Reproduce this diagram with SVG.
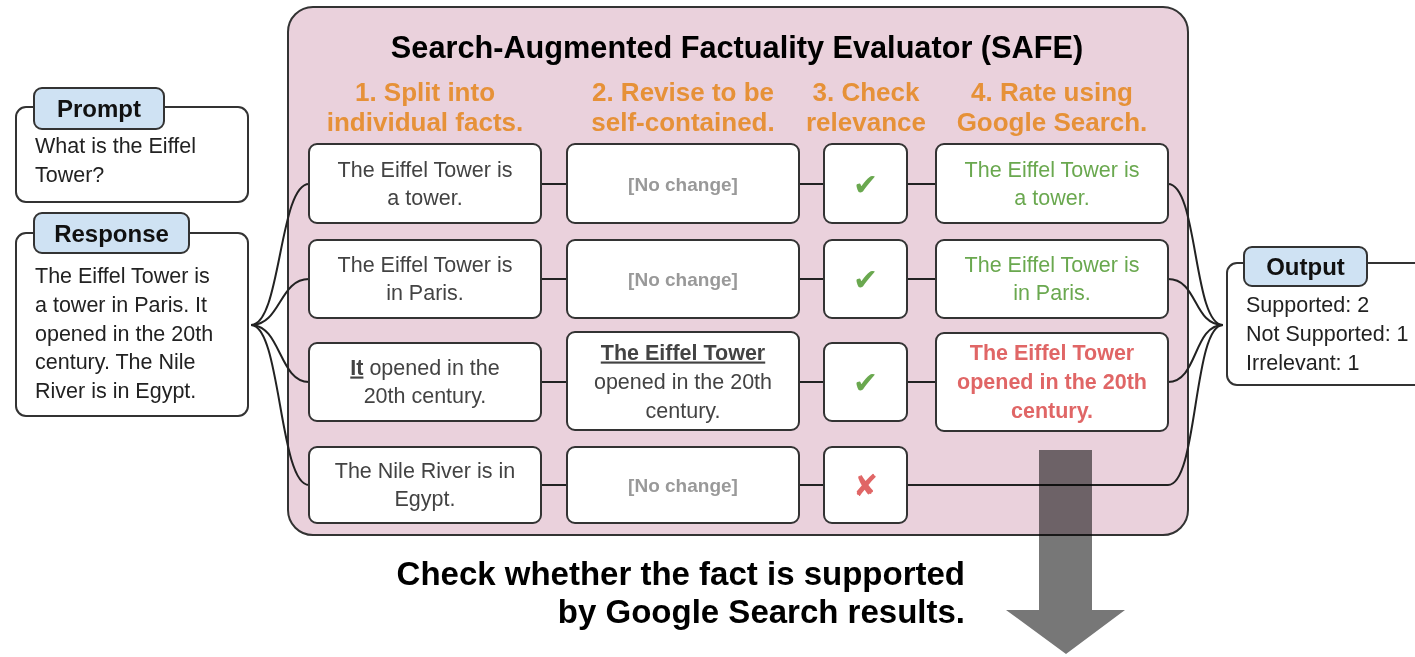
<svg xmlns="http://www.w3.org/2000/svg" width="1415" height="657" viewBox="0 0 1415 657">
<style>
text{font-family:"Liberation Sans",Arial,sans-serif;}
.box{fill:#fff;stroke:#333;stroke-width:2;}
.pill{fill:#cfe2f3;stroke:#333;stroke-width:2;}
.conn{fill:none;stroke:#222;stroke-width:2;}
.body{font-size:21.5px;fill:#434343;text-anchor:middle;}
.side{font-size:21.5px;fill:#222;}
.hdr{font-size:26px;font-weight:bold;fill:#e69138;text-anchor:middle;}
.nc{font-size:19px;font-weight:bold;fill:#999;text-anchor:middle;}
.ok{font-size:21.5px;fill:#6aa84f;text-anchor:middle;}
.bad{font-size:21.5px;font-weight:bold;fill:#e06666;text-anchor:middle;}
.pt{font-size:24px;font-weight:bold;fill:#111;text-anchor:middle;}
.mark{font-family:"DejaVu Sans",sans-serif;font-size:30px;text-anchor:middle;}
</style>

<g id="panel">
<rect x="288" y="7" width="900" height="528" rx="25" fill="#ead1dc" stroke="#333" stroke-width="2"/>
<text x="737" y="58" font-size="30.7" font-weight="bold" fill="#000" text-anchor="middle">Search-Augmented Factuality Evaluator (SAFE)</text>
<text class="hdr" x="425" y="101">1. Split into</text>
<text class="hdr" x="425" y="131">individual facts.</text>
<text class="hdr" x="683" y="101">2. Revise to be</text>
<text class="hdr" x="683" y="131">self-contained.</text>
<text class="hdr" x="866" y="101">3. Check</text>
<text class="hdr" x="866" y="131">relevance</text>
<text class="hdr" x="1052" y="101">4. Rate using</text>
<text class="hdr" x="1052" y="131">Google Search.</text>
</g>

<g id="connectors">
<path class="conn" d="M251 325 C281 325 279 184 309 184"/>
<path class="conn" d="M251 325 C281 325 279 279 309 279"/>
<path class="conn" d="M251 325 C281 325 279 382 309 382"/>
<path class="conn" d="M251 325 C281 325 279 485 309 485"/>
<path class="conn" d="M541 184 H567 M799 184 H824 M907 184 H936"/>
<path class="conn" d="M541 279 H567 M799 279 H824 M907 279 H936"/>
<path class="conn" d="M541 382 H567 M799 382 H824 M907 382 H936"/>
<path class="conn" d="M541 485 H567 M799 485 H824"/>
<path class="conn" d="M1168 184 C1198 184 1193 325 1223 325"/>
<path class="conn" d="M1168 279 C1198 279 1193 325 1223 325"/>
<path class="conn" d="M1168 382 C1198 382 1193 325 1223 325"/>
<path class="conn" d="M907 485 H1168 C1198 485 1193 325 1223 325"/>
</g>

<g id="prompt">
<rect class="box" x="16" y="107" width="232" height="95" rx="10"/>
<rect class="pill" x="34" y="88" width="130" height="41" rx="8"/>
<text class="pt" x="99" y="117">Prompt</text>
<text class="side" x="35" y="153">What is the Eiffel</text>
<text class="side" x="35" y="182">Tower?</text>
</g>

<g id="response">
<rect class="box" x="16" y="233" width="232" height="183" rx="10"/>
<rect class="pill" x="34" y="213" width="155" height="40" rx="8"/>
<text class="pt" x="111.5" y="242">Response</text>
<text class="side" x="35" y="283">The Eiffel Tower is</text>
<text class="side" x="35" y="312">a tower in Paris. It</text>
<text class="side" x="35" y="341">opened in the 20th</text>
<text class="side" x="35" y="369">century. The Nile</text>
<text class="side" x="35" y="398">River is in Egypt.</text>
</g>

<g id="fact1">
<rect class="box" x="309" y="144" width="232" height="79" rx="8"/>
<text class="body" x="425" y="176.5">The Eiffel Tower is</text>
<text class="body" x="425" y="205">a tower.</text>
</g>
<g id="fact2">
<rect class="box" x="309" y="240" width="232" height="78" rx="8"/>
<text class="body" x="425" y="271.5">The Eiffel Tower is</text>
<text class="body" x="425" y="300">in Paris.</text>
</g>
<g id="fact3">
<rect class="box" x="309" y="343" width="232" height="78" rx="8"/>
<text class="body" x="425" y="374.5"><tspan font-weight="bold" text-decoration="underline">It</tspan> opened in the</text>
<text class="body" x="425" y="403">20th century.</text>
</g>
<g id="fact4">
<rect class="box" x="309" y="447" width="232" height="76" rx="8"/>
<text class="body" x="425" y="477.5">The Nile River is in</text>
<text class="body" x="425" y="506">Egypt.</text>
</g>

<g id="revise1">
<rect class="box" x="567" y="144" width="232" height="79" rx="8"/>
<text class="nc" x="683" y="190.5">[No change]</text>
</g>
<g id="revise2">
<rect class="box" x="567" y="240" width="232" height="78" rx="8"/>
<text class="nc" x="683" y="285.5">[No change]</text>
</g>
<g id="revise3">
<rect class="box" x="567" y="332" width="232" height="98" rx="8"/>
<text class="body" x="683" y="359.5" font-weight="bold" text-decoration="underline">The Eiffel Tower</text>
<text class="body" x="683" y="388.5">opened in the 20th</text>
<text class="body" x="683" y="417.5">century.</text>
</g>
<g id="revise4">
<rect class="box" x="567" y="447" width="232" height="76" rx="8"/>
<text class="nc" x="683" y="491.5">[No change]</text>
</g>

<g id="rel1">
<rect class="box" x="824" y="144" width="83" height="79" rx="8"/>
<text class="mark" x="865.5" y="195" fill="#6aa84f">✔</text>
</g>
<g id="rel2">
<rect class="box" x="824" y="240" width="83" height="78" rx="8"/>
<text class="mark" x="865.5" y="290" fill="#6aa84f">✔</text>
</g>
<g id="rel3">
<rect class="box" x="824" y="343" width="83" height="78" rx="8"/>
<text class="mark" x="865.5" y="393" fill="#6aa84f">✔</text>
</g>
<g id="rel4">
<rect class="box" x="824" y="447" width="83" height="76" rx="8"/>
<text class="mark" x="865.5" y="496" fill="#e06666">✘</text>
</g>

<g id="rate1">
<rect class="box" x="936" y="144" width="232" height="79" rx="8"/>
<text class="ok" x="1052" y="176.5">The Eiffel Tower is</text>
<text class="ok" x="1052" y="205">a tower.</text>
</g>
<g id="rate2">
<rect class="box" x="936" y="240" width="232" height="78" rx="8"/>
<text class="ok" x="1052" y="271.5">The Eiffel Tower is</text>
<text class="ok" x="1052" y="300">in Paris.</text>
</g>
<g id="rate3">
<rect class="box" x="936" y="333" width="232" height="98" rx="8"/>
<text class="bad" x="1052" y="359.5">The Eiffel Tower</text>
<text class="bad" x="1052" y="388.5">opened in the 20th</text>
<text class="bad" x="1052" y="417.5">century.</text>
</g>

<g id="output">
<rect class="box" x="1227" y="263" width="210" height="122" rx="10"/>
<rect class="pill" x="1244" y="247" width="123" height="39" rx="8"/>
<text class="pt" x="1305.5" y="275">Output</text>
<text class="side" x="1246" y="312">Supported: 2</text>
<text class="side" x="1246" y="341">Not Supported: 1</text>
<text class="side" x="1246" y="370">Irrelevant: 1</text>
</g>

<g id="search-arrow">
<polygon points="1039,450 1092,450 1092,610 1125,610 1066,654 1006,610 1039,610" fill="#777" style="mix-blend-mode:multiply"/>
<text x="965" y="585" font-size="33" font-weight="bold" fill="#000" text-anchor="end">Check whether the fact is supported</text>
<text x="965" y="623" font-size="33" font-weight="bold" fill="#000" text-anchor="end">by Google Search results.</text>
</g>
</svg>
